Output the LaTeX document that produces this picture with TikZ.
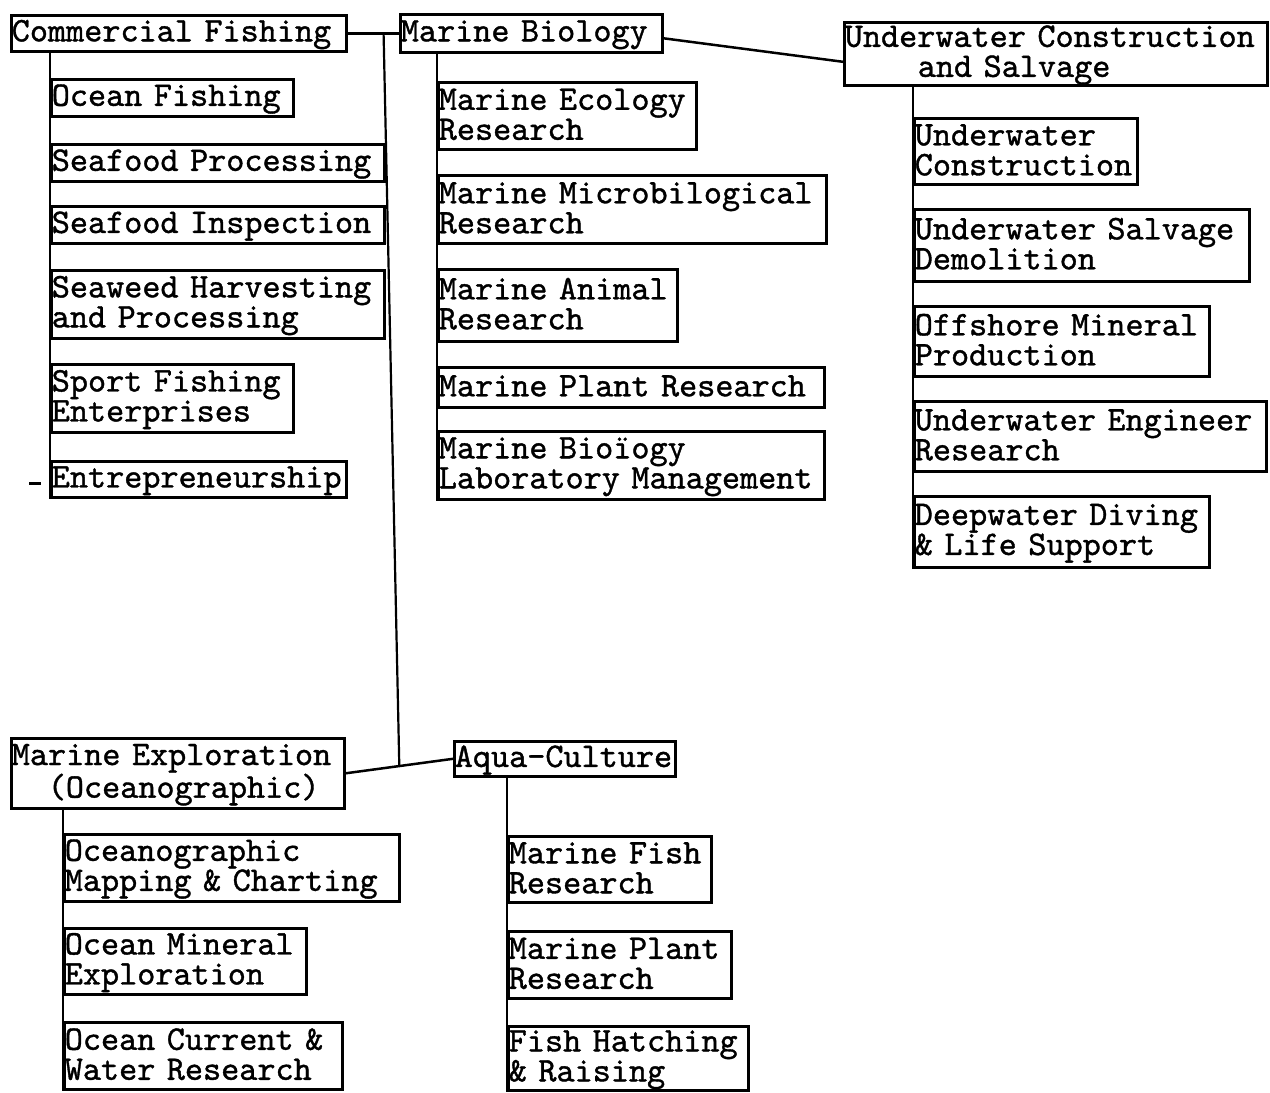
\documentclass[tikz,border=0pt]{standalone}
\usepackage{fontspec}
% typewriter face, slightly emboldened
\newfontfamily\tw{lmmono10-regular.otf}[FakeBold=1.1]
\usetikzlibrary{calc}
\newcommand\nobreakhyph{\hyphenpenalty=10000 \exhyphenpenalty=10000 }
\begin{document}
\begin{tikzpicture}[x=1pt,y=-1pt,
  box/.style={draw, line width=2.6pt, anchor=north west, inner xsep=0.5pt, inner ysep=0pt,
    align=left, font=\tw\fontsize{34.5}{30}\selectfont,
    execute at begin node={\nobreakhyph\rule{0pt}{24pt}},
    execute at end node={\rule[-6pt]{0pt}{6pt}}},
  wh/.style 2 args={minimum width=#1pt, text width=#1pt-1pt, minimum height=#2pt},
  link/.style={line width=2.5pt},
  trunk/.style={line width=2.2pt}]
% page
\fill[white] (0,0) rectangle (1270,1090);

% ---- Commercial Fishing
\node[box, wh={335}{36}] (cf) at (10,14) {Commercial Fishing};
\node[box, wh={242}{37}] (cf1) at (50,78) {Ocean Fishing};
\node[box, wh={333}{37}] (cf2) at (50,143) {Seafood Processing};
\node[box, wh={333}{37}] (cf3) at (50,205) {Seafood Inspection};
\node[box, wh={333}{68}] (cf4) at (50,269) {Seaweed Harvesting\\and Processing};
\node[box, wh={242}{68}] (cf5) at (50,363) {Sport Fishing\\Enterprises};
\node[box, wh={295}{36}] (cf6) at (50,460) {Entrepreneurship};

% ---- Marine Biology
\node[box, wh={262}{38}] (mb) at (399,13) {Marine Biology};
\node[box, wh={258}{67}] (mb1) at (437,81) {Marine Ecology\\Research};
\node[box, wh={388}{68}] (mb2) at (437,174) {Marine Microbilogical\\Research};
\node[box, wh={239}{72}] (mb3) at (437,268) {Marine Animal\\Research};
\node[box, wh={386}{40}] (mb4) at (437,366) {Marine Plant Research};
\node[box, wh={386}{68}] (mb5) at (437,430) {Marine Bioïogy\\Laboratory Management};

% ---- Underwater Construction and Salvage
\node[box, wh={423}{63}] (ucs) at (843,21) {Underwater Construction\\\hspace*{73pt}and Salvage};
\node[box, wh={223}{66}] (uc1) at (913,117) {Underwater\\Construction};
\node[box, wh={335}{72}] (uc2) at (913,208) {Underwater Salvage\\Demolition};
\node[box, wh={295}{70}] (uc3) at (913,305) {Offshore Mineral\\Production};
\node[box, wh={352}{70}] (uc4) at (913,400) {Underwater Engineer\\Research};
\node[box, wh={295}{71}] (uc5) at (913,495) {Deepwater Diving\\\& Life Support};

% ---- Marine Exploration
\node[box, wh={333}{70}] (me) at (10,737) {Marine Exploration\\\hspace*{36pt}(Oceanographic)};
\node[box, wh={335}{67}] (me1) at (63,833) {Oceanographic\\Mapping \& Charting};
\node[box, wh={242}{66}] (me2) at (63,927) {Ocean Mineral\\Exploration};
\node[box, wh={278}{67}] (me3) at (63,1021) {Ocean Current \&\\Water Research};

% ---- Aqua-Culture
\node[box, wh={221}{35}] (ac) at (453,740) {Aqua-Culture};
\node[box, wh={203}{66}] (ac1) at (507,835) {Marine Fish\\Research};
\node[box, wh={223}{67}] (ac2) at (507,930) {Marine Plant\\Research};
\node[box, wh={240}{64}] (ac3) at (507,1025) {Fish Hatching\\\& Raising};

% ---- links between the main fields
\draw[link] (cf.east) -- (mb.west);
\draw[link] ([yshift=-5pt]mb.east) -- ([yshift=-8pt]ucs.west);
\draw[link] (me.east) -- (ac.west);
\coordinate (j1) at ($(cf.east)!0.7!(mb.west)$);
\coordinate (j2) at ($(me.east)!0.5!(ac.west)$);
\draw[trunk] (j1) -- (j2);

% ---- branch lines down the left side of each list
\draw[trunk] (cf1.north west |- cf.south) -- (cf6.south west);
\draw[trunk] (mb1.north west |- mb.south) -- (mb5.south west);
\draw[trunk] (uc1.north west |- ucs.south) -- (uc5.south west);
\draw[trunk] (me1.north west |- me.south) -- (me3.south west);
\draw[trunk] (ac1.north west |- ac.south) -- (ac3.south west);

% short dash beside the last fishing item
\coordinate (dsh) at ($(cf6.west)+(-21,4)$);
\draw[link] (dsh) -- ++(12,0);
\end{tikzpicture}
\end{document}
